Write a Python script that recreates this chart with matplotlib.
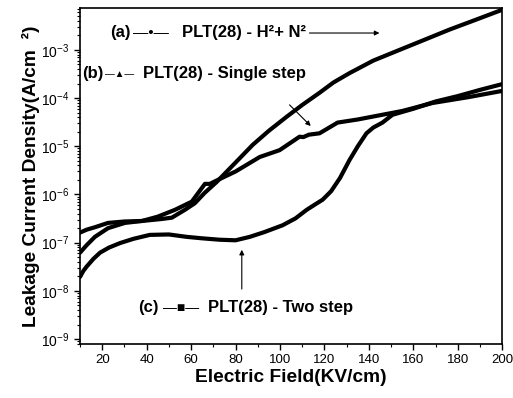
import matplotlib
matplotlib.use("Agg")
import matplotlib.pyplot as plt
from matplotlib.ticker import LogLocator, LogFormatterMathtext, MultipleLocator

plt.rcParams['font.family'] = ['Liberation Sans', 'DejaVu Sans']
plt.rcParams['mathtext.fontset'] = 'custom'
plt.rcParams['mathtext.rm'] = 'Liberation Sans'
plt.rcParams['mathtext.it'] = 'Liberation Sans:italic'
plt.rcParams['mathtext.bf'] = 'Liberation Sans:bold'

# (a) PLT(28) - H2 + N2
field_a = [10, 13, 16.7, 22.6, 30.2, 37.9, 46.8, 51.3, 57.2, 61.7, 66, 71.5, 80,
           87.7, 95, 103, 110, 117.8, 124, 131.3, 142, 153.8, 165, 176.2, 188, 200]
curr_a = [6.2e-8, 8.9e-8, 1.32e-7, 2.0e-7, 2.57e-7, 2.82e-7, 3.1e-7, 3.3e-7, 4.8e-7,
          6.6e-7, 1.07e-6, 1.82e-6, 4.6e-6, 1.07e-5, 2.1e-5, 4.1e-5, 7.2e-5, 1.29e-4,
          2.1e-4, 3.3e-4, 6.0e-4, 1.0e-3, 1.62e-3, 2.63e-3, 4.2e-3, 6.8e-3]

# (b) PLT(28) - Single step
field_b = [10, 13, 16.7, 22.6, 30, 37.9, 45, 52.7, 60.3, 66.2, 68.4, 71.5, 80, 90.9,
           99.8, 108.8, 110.5, 113, 117.8, 125.9, 135, 146, 155, 168.6, 185, 200]
curr_b = [1.62e-7, 1.86e-7, 2.09e-7, 2.57e-7, 2.75e-7, 2.82e-7, 3.47e-7, 4.8e-7, 7.1e-7,
          1.66e-6, 1.66e-6, 1.95e-6, 3.0e-6, 6.0e-6, 8.3e-6, 1.58e-5, 1.55e-5, 1.74e-5,
          1.86e-5, 3.1e-5, 3.6e-5, 4.5e-5, 5.4e-5, 7.9e-5, 1.05e-4, 1.41e-4]

# (c) PLT(28) - Two step
field_c = [10, 11.5, 13, 16, 19, 23, 28, 34, 41.4, 50, 58, 65, 72.9, 80, 86.4, 93,
           101.2, 107, 112, 116, 119.2, 123, 127, 131.3, 135, 138.9, 142, 146.1, 150.6,
           160, 170, 180, 190, 200]
curr_c = [1.95e-8, 2.6e-8, 3.2e-8, 4.6e-8, 6.2e-8, 7.9e-8, 9.8e-8, 1.2e-7, 1.45e-7,
          1.48e-7, 1.32e-7, 1.23e-7, 1.15e-7, 1.12e-7, 1.32e-7, 1.66e-7, 2.3e-7, 3.2e-7,
          4.8e-7, 6.3e-7, 7.8e-7, 1.17e-6, 2.2e-6, 5.2e-6, 1.0e-5, 1.86e-5, 2.45e-5, 3.1e-5,
          4.5e-5, 6.0e-5, 8.5e-5, 1.1e-4, 1.48e-4, 1.95e-4]

y_ticks = [1e-9, 1e-8, 1e-7, 1e-6, 1e-5, 1e-4, 1e-3]
x_ticks = [20, 40, 60, 80, 100, 120, 140, 160, 180, 200]

fig = plt.figure(figsize=(5.13, 3.98), dpi=100)
ax = fig.add_axes([0.156, 0.136, 0.823, 0.844])

for fx, cy in [(field_a, curr_a), (field_b, curr_b), (field_c, curr_c)]:
    ax.plot(fx, cy, color="black", lw=3.0, solid_capstyle="round")

ax.set_yscale("log")
ax.set_xlim(10, 200)
ax.set_ylim(10**-9.10, 10**-2.13)
ax.set_xticks(x_ticks)
ax.set_yticks(y_ticks)
ax.xaxis.set_minor_locator(MultipleLocator(10))
ax.yaxis.set_minor_locator(LogLocator(base=10, subs=range(2, 10), numticks=20))
ax.yaxis.set_major_formatter(LogFormatterMathtext())
ax.tick_params(which="major", direction="out", length=4, width=1, labelsize=10)
ax.tick_params(axis="x", labelsize=9.5)
ax.tick_params(which="minor", direction="out", length=2, width=0.8)
for s in ax.spines.values():
    s.set_linewidth(1.2)

ax.set_xlabel("Electric Field(KV/cm)", fontsize=13.8, fontweight="bold", labelpad=2)
ax.set_ylabel("Leakage Current Density(A/cm  ²)", fontsize=13.8, fontweight="bold", labelpad=1)

# labels with legend-like symbols
tkw = dict(transform=ax.transAxes, fontsize=12, va="center", fontweight="bold")
skw = dict(transform=ax.transAxes, va="center")
ax.text(0.071, 0.926, "(a)", **tkw)
ax.text(0.125, 0.926, "—•—", fontsize=11, **skw)
ax.text(0.241, 0.926, "PLT(28) - H²+ N²", **tkw)
ax.text(0.005, 0.804, "(b)", **tkw)
ax.text(0.059, 0.804, "—▲—", fontsize=7, **skw)
ax.text(0.149, 0.804, "PLT(28) - Single step", **tkw)
ax.text(0.137, 0.107, "(c)", **tkw)
ax.text(0.196, 0.107, "—■—", fontsize=10, **skw)
ax.text(0.303, 0.107, "PLT(28) - Two step", **tkw)

akw = dict(arrowstyle="-|>", color="black", lw=0.8, mutation_scale=7)
ax.annotate("", xy=(146, 10**-2.65), xytext=(112, 10**-2.65), arrowprops=akw)
ax.annotate("", xy=(114.7, 10**-4.62), xytext=(103.4, 10**-4.10), arrowprops=akw)
ax.annotate("", xy=(82.8, 10**-7.09), xytext=(82.8, 10**-8.02), arrowprops=akw)

fig.savefig("out.png", dpi=100)
